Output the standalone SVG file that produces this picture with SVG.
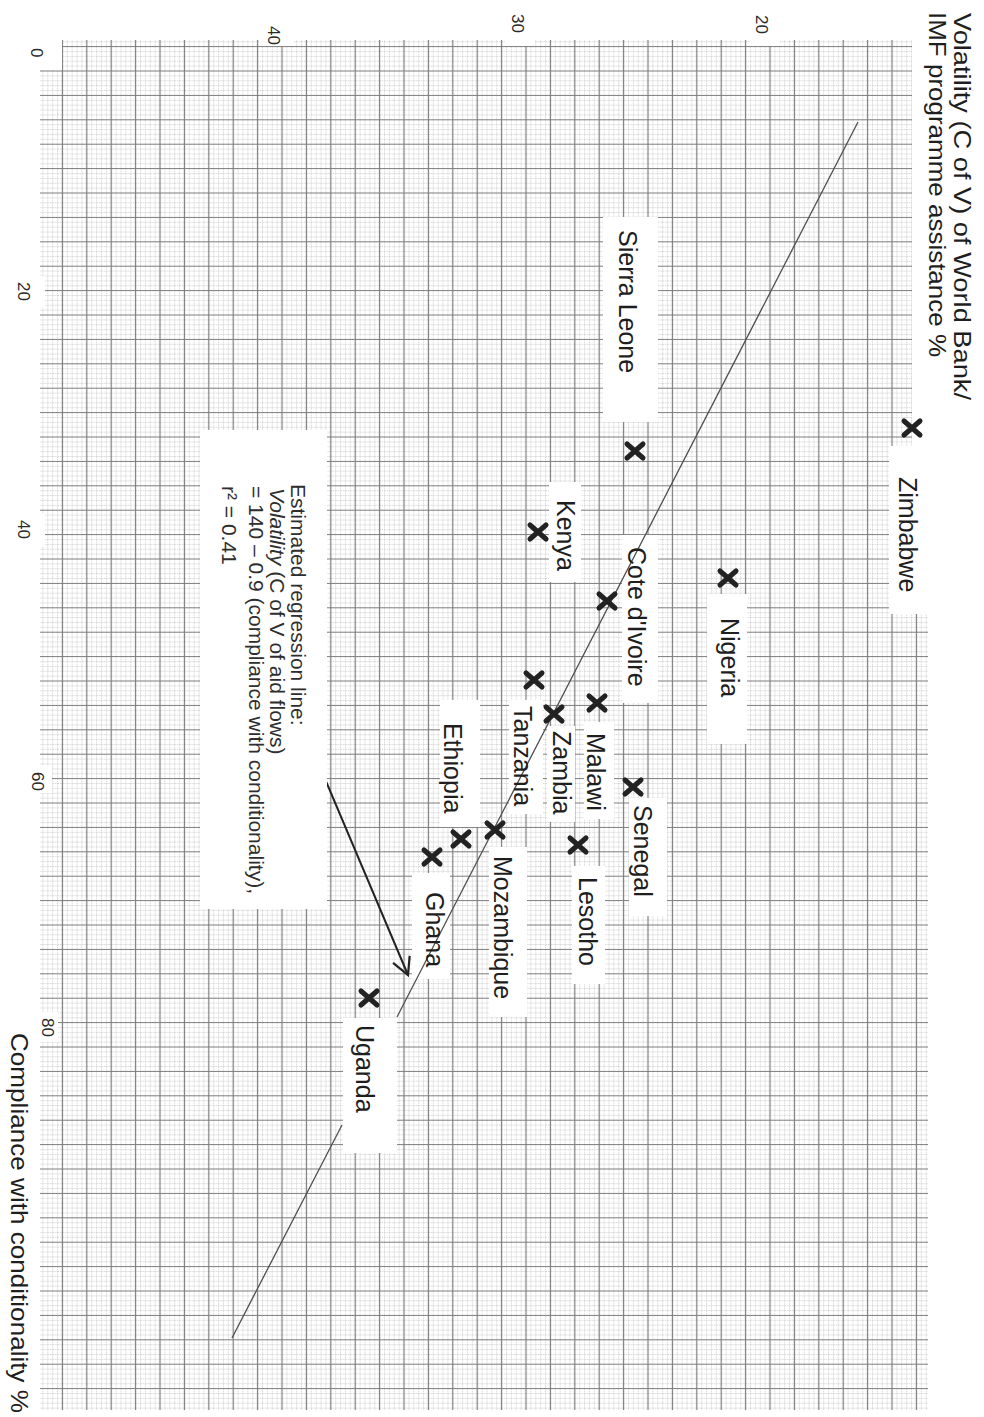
<svg xmlns="http://www.w3.org/2000/svg" width="984" height="1417" viewBox="0 0 984 1417">
<style>
.lbl{font-family:"Liberation Sans",Arial,sans-serif;font-size:25px;fill:#1e1e1e}
.tick{font-family:"Liberation Sans",Arial,sans-serif;font-size:17px;fill:#2a2a2a}
.ttl{font-family:"Liberation Sans",Arial,sans-serif;font-size:24px;fill:#1e1e1e}
.eq{font-family:"Liberation Sans",Arial,sans-serif;font-size:21px;fill:#2e2e2e}
.box{fill:#fff}
.xm{stroke:#222;stroke-width:5;stroke-linecap:round;fill:none}
.reg{stroke:#505050;stroke-width:1.3;fill:none}
</style>
<defs>
<pattern id="grid" patternUnits="userSpaceOnUse" x="1.4" y="10" width="24.4" height="24.4">
<path d="M2.44,0V24.4M7.32,0V24.4M17.08,0V24.4M21.96,0V24.4M0,2.44H24.4M0,7.32H24.4M0,17.08H24.4M0,21.96H24.4" stroke="#c2c2c2" stroke-width="0.6" stroke-dasharray="1.6,0.8" fill="none"/>
<path d="M12.2,0V24.4M0,12.2H24.4" stroke="#7a7a7a" stroke-width="1.2" fill="none"/>
</pattern>
<marker id="ah" markerUnits="userSpaceOnUse" markerWidth="24" markerHeight="22" refX="20" refY="11" orient="auto">
<path d="M3,2 L20,11 L3,20" fill="none" stroke="#222" stroke-width="2.2"/>
</marker>
<path id="x" d="M-8,-7 L8,7 M-8,7 L8,-7"/>
</defs>
<rect width="984" height="1417" fill="#fff"/>
<g id="paper">
<rect x="40" y="40" width="888" height="1370" fill="url(#grid)"/>
<rect class="box" x="912" y="0" width="72" height="446"/>
<rect class="box" x="260" y="30" width="34" height="16"/>
<rect class="box" x="505" y="30" width="30" height="16"/>
<rect class="box" x="750" y="30" width="30" height="16"/>
<rect class="box" x="30" y="40" width="32" height="30"/>
<rect class="box" x="15" y="276" width="30" height="32"/>
<rect class="box" x="15" y="514" width="30" height="33"/>
<rect class="box" x="30" y="765" width="22" height="28"/>
<rect class="box" x="38" y="1012" width="20" height="30"/>
</g>
<g id="axes">
<text class="ttl" transform="translate(954,13) rotate(90)" textLength="387" lengthAdjust="spacingAndGlyphs">Volatility (C of V) of World Bank/</text>
<text class="ttl" transform="translate(929,12) rotate(90)" textLength="345" lengthAdjust="spacingAndGlyphs">IMF programme assistance %</text>
<text class="ttl" transform="translate(11,1033) rotate(90)" textLength="380" lengthAdjust="spacingAndGlyphs">Compliance with conditionality %</text>
<text class="tick" transform="translate(268,26) rotate(90)">40</text>
<text class="tick" transform="translate(512,14) rotate(90)">30</text>
<text class="tick" transform="translate(756,15) rotate(90)">20</text>
<text class="tick" transform="translate(31,48) rotate(90)">0</text>
<text class="tick" transform="translate(18,282) rotate(90)">20</text>
<text class="tick" transform="translate(18,520) rotate(90)">40</text>
<text class="tick" transform="translate(32,772) rotate(90)">60</text>
<text class="tick" transform="translate(42,1018) rotate(90)">80</text>
</g>
<g id="label-boxes">
<rect class="box" x="889" y="446" width="50" height="168"/>
<rect class="box" x="603" y="217" width="55" height="205"/>
<rect class="box" x="707" y="594" width="40" height="150"/>
<rect class="box" x="549" y="482" width="32" height="100"/>
<rect class="box" x="622" y="535" width="36" height="168"/>
<rect class="box" x="584" y="722" width="30" height="97"/>
<rect class="box" x="547" y="726" width="28" height="96"/>
<rect class="box" x="509" y="700" width="34" height="114"/>
<rect class="box" x="629" y="798" width="38" height="118"/>
<rect class="box" x="572" y="866" width="33" height="118"/>
<rect class="box" x="440" y="700" width="40" height="127"/>
<rect class="box" x="489" y="847" width="38" height="170"/>
<rect class="box" x="412" y="873" width="38" height="106"/>
<rect class="box" x="343" y="1018" width="54" height="135"/>
</g>
<g id="connectors">
<path class="reg" d="M858,122 L397,1017 M342,1125 L232,1338"/>
<path d="M306,734 L408,975" stroke="#222" stroke-width="2" fill="none" marker-end="url(#ah)"/>
</g>
<g id="regression-note">
<rect class="box" x="200" y="430" width="127" height="479"/>
<text class="eq" transform="translate(291,484) rotate(90)">Estimated regression line:</text>
<text class="eq" transform="translate(270,488) rotate(90)"><tspan font-style="italic">Volatility</tspan> (C of V of aid flows)</text>
<text class="eq" transform="translate(249,486) rotate(90)">= 140 – 0.9 (compliance with conditionality),</text>
<text class="eq" transform="translate(222,486) rotate(90)">r² = 0.41</text>
</g>
<g id="zimbabwe"><use href="#x" class="xm" x="912" y="428"/><text class="lbl" transform="translate(899,477) rotate(90)">Zimbabwe</text></g>
<g id="sierra-leone"><use href="#x" class="xm" x="635" y="451"/><text class="lbl" transform="translate(619,230) rotate(90)">Sierra Leone</text></g>
<g id="nigeria"><use href="#x" class="xm" x="728" y="578"/><text class="lbl" transform="translate(721,618) rotate(90)">Nigeria</text></g>
<g id="kenya"><use href="#x" class="xm" x="538" y="532"/><text class="lbl" transform="translate(557,500) rotate(90)">Kenya</text></g>
<g id="cote-divoire"><use href="#x" class="xm" x="607" y="601"/><text class="lbl" transform="translate(628,547) rotate(90)">Cote d'Ivoire</text></g>
<g id="tanzania"><use href="#x" class="xm" x="534" y="680"/><text class="lbl" transform="translate(514,706) rotate(90)">Tanzania</text></g>
<g id="malawi"><use href="#x" class="xm" x="597" y="703"/><text class="lbl" transform="translate(587,733) rotate(90)">Malawi</text></g>
<g id="zambia"><use href="#x" class="xm" x="554" y="714"/><text class="lbl" transform="translate(553,731) rotate(90)">Zambia</text></g>
<g id="senegal"><use href="#x" class="xm" x="633" y="787"/><text class="lbl" transform="translate(634,805) rotate(90)">Senegal</text></g>
<g id="lesotho"><use href="#x" class="xm" x="578" y="845"/><text class="lbl" transform="translate(579,877) rotate(90)">Lesotho</text></g>
<g id="mozambique"><use href="#x" class="xm" x="495" y="830"/><text class="lbl" transform="translate(494,856) rotate(90)">Mozambique</text></g>
<g id="ethiopia"><use href="#x" class="xm" x="461" y="839"/><text class="lbl" transform="translate(444,723) rotate(90)">Ethiopia</text></g>
<g id="ghana"><use href="#x" class="xm" x="432" y="857"/><text class="lbl" transform="translate(426,892) rotate(90)">Ghana</text></g>
<g id="uganda"><use href="#x" class="xm" x="369" y="998"/><text class="lbl" transform="translate(356,1025) rotate(90)">Uganda</text></g>
</svg>
